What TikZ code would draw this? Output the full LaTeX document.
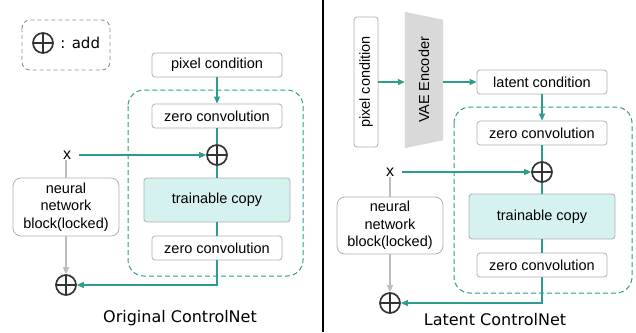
\documentclass[tikz,border=0pt]{standalone}
\usepackage{fontspec}
\setmainfont{Liberation Sans}
\newfontfamily\titlefont{DejaVu Sans}
\usetikzlibrary{arrows.meta,positioning}

\definecolor{cnteal}{HTML}{2C9C8F}
\definecolor{copyfill}{HTML}{D5F2F1}
\definecolor{boxgray}{HTML}{B0B0B0}
\definecolor{lockgray}{HTML}{BDBDBD}
\definecolor{opgray}{HTML}{333333}
\definecolor{vaegray}{HTML}{D9D9D9}

\tikzset{
  block/.style={draw=boxgray, rounded corners=3pt, line width=0.8pt, inner sep=0pt,
    minimum width=130pt, minimum height=24pt, font=\fontsize{14.5}{17.5}\selectfont},
  copyblock/.style={block, fill=copyfill, minimum width=146pt, minimum height=44pt},
  lockblock/.style={block, rounded corners=8pt, minimum width=106pt, minimum height=58pt, align=center},
  addop/.style={circle, draw=opgray, line width=1.7pt, minimum size=20pt, inner sep=0pt,
    path picture={\draw[opgray, line width=1.7pt]
      (path picture bounding box.north) -- (path picture bounding box.south)
      (path picture bounding box.west) -- (path picture bounding box.east);}},
  inlabel/.style={font=\fontsize{16}{18}\selectfont, inner sep=1pt},
  tealline/.style={draw=cnteal, line width=1.2pt},
  tealarrow/.style={tealline, -{Triangle[length=7pt,width=6pt]}},
  grayline/.style={draw=lockgray, line width=1.2pt},
  grayarrow/.style={grayline, -{Triangle[length=7pt,width=6pt]}},
  ctrlframe/.style={draw=cnteal, line width=1pt, dash pattern=on 5pt off 3pt, rounded corners=16pt},
  caption/.style={font=\titlefont\fontsize{16}{18}\selectfont},
}

\begin{document}
\begin{tikzpicture}[x=1pt,y=-1pt]
\useasboundingbox (0,0) rectangle (636,332);

% legend
\draw[boxgray!80!black, line width=0.9pt, dash pattern=on 4pt off 3pt, rounded corners=8pt]
  (22,20) rectangle (110,70);
\node[addop] (legendop) at (43,43) {};
\node[caption, font=\titlefont\fontsize{15}{17}\selectfont, right=3pt of legendop] (legendtxt) {: add};

% original controlnet
\draw[ctrlframe] (128,90) rectangle (303,276);
\node[block] (pixelL) at (217,65) {pixel condition};
\node[block] (zeroinL) at (217,116) {zero convolution};
\node[addop] (addL) at (217,155) {};
\node[inlabel] (xL) at (67,155) {x};
\node[copyblock] (copyL) at (217,200) {trainable copy};
\node[block] (zerooutL) at (217,248) {zero convolution};
\node[lockblock] (lockL) at (66,207) {neural\\network\\block(locked)};
\node[addop] (outL) at (66,285) {};
\node[caption] (titleL) at (180,318) {Original ControlNet};

\draw[tealarrow] (pixelL) -- (zeroinL);
\draw[tealline] (zeroinL) -- (addL);
\draw[tealarrow] ([xshift=7pt]xL.east) -- (addL);
\draw[tealline] (addL) -- (copyL);
\draw[tealline] (copyL) -- (zerooutL);
\draw[tealarrow] (zerooutL.south) |- (outL);
\draw[grayline] (xL.south -| lockL.north) -- (lockL);
\draw[grayarrow] (lockL) -- (outL);

% divider
\draw[black, line width=1.3pt] (323,0) -- (323,332);

% latent controlnet
\draw[ctrlframe] (454,107) rectangle (632,293);
\node[block, minimum width=24pt, minimum height=130pt] (pixelR) at (366,82)
  {\rotatebox{90}{pixel condition}};
\node[minimum width=38pt, minimum height=136pt, inner sep=0pt] (vae) at (424,80) {};
\fill[vaegray] (vae.north west) -- ([yshift=-8pt]vae.north east)
  -- ([yshift=8pt]vae.south east) -- (vae.south west) -- cycle;
\node[font=\fontsize{14.5}{17}\selectfont] at (vae) {\rotatebox{90}{VAE Encoder}};
\node[block] (latentR) at (542,82) {latent condition};
\node[block] (zeroinR) at (542,133) {zero convolution};
\node[addop] (addR) at (542,172) {};
\node[inlabel] (xR) at (390,172) {x};
\node[copyblock, minimum height=45pt] (copyR) at (542,216.5) {trainable copy};
\node[block] (zerooutR) at (542,265) {zero convolution};
\node[lockblock, minimum height=57pt] (lockR) at (390,225.5) {neural\\network\\block(locked)};
\node[addop] (outR) at (390,303) {};
\node[caption] (titleR) at (495,320) {Latent ControlNet};

\draw[tealarrow] (pixelR.east) -- (pixelR.east -| vae.west);
\draw[tealarrow] (pixelR.east -| vae.east) -- (latentR.west);
\draw[tealarrow] (latentR) -- (zeroinR);
\draw[tealline] (zeroinR) -- (addR);
\draw[tealarrow] ([xshift=7pt]xR.east) -- (addR);
\draw[tealline] (addR) -- (copyR);
\draw[tealline] (copyR) -- (zerooutR);
\draw[tealarrow] (zerooutR.south) |- (outR);
\draw[grayline] (xR.south -| lockR.north) -- (lockR);
\draw[grayarrow] (lockR) -- (outR);
\end{tikzpicture}
\end{document}
